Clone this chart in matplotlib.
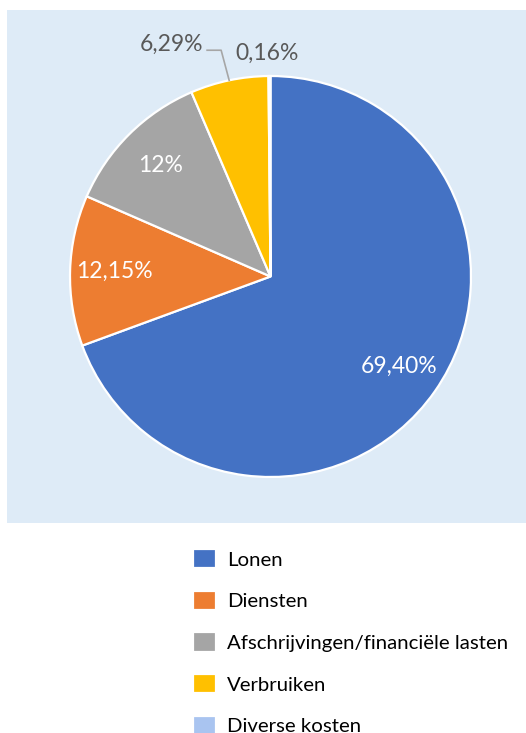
# Taartdiagram van de kostenverdeling
# met legenda onder het diagram

import numpy as np
import matplotlib.pyplot as plt
from matplotlib.patches import Rectangle

# categorieen en aandelen (%)
Categorieen = ["Lonen", "Diensten", "Afschrijvingen/financiële lasten",
               "Verbruiken", "Diverse kosten"]
Aandelen = [69.40, 12.15, 12.00, 6.29, 0.16]
Labels = ["69,40%", "12,15%", "12%", "6,29%", "0,16%"]
Kleuren = ["#4472C4", "#ED7D31", "#A5A5A5", "#FFC000", "#A9C4F0"]

fig = plt.figure(figsize=(5.26, 7.33), dpi=100)

# lichtblauwe achtergrond van het diagramvlak
fig.patches.append(Rectangle((7 / 526, 1 - 523 / 733), 1 - 7 / 526, 513 / 733,
                             transform=fig.transFigure, facecolor="#DEEBF7",
                             edgecolor="none", zorder=-10))

ax = fig.add_axes([70 / 526, 1 - 477 / 733, 401 / 526, 401 / 733])
ax.set_facecolor("none")

Taarten, _ = ax.pie(
    Aandelen,
    colors=Kleuren,
    startangle=90,
    counterclock=False,
    radius=1,
    wedgeprops=dict(edgecolor="white", linewidth=1.6),
)
ax.set_xlim(-1, 1)
ax.set_ylim(-1, 1)
ax.set_aspect("equal")
ax.axis("off")

# labels: binnen de taart wit, buiten grijs
for i, w in enumerate(Taarten):
    hoek = np.deg2rad((w.theta1 + w.theta2) / 2)
    if i < 3:
        ax.text(0.78 * np.cos(hoek), 0.78 * np.sin(hoek), Labels[i],
                color="white", fontsize=16.5, family="Lato",
                ha="center", va="center")
    elif i == 3:
        x0, y0 = np.cos(hoek), np.sin(hoek)
        ax.plot([x0, x0 - 0.04, x0 - 0.11], [y0, y0 + 0.15, y0 + 0.15],
                color="#A6A6A6", linewidth=1.2, clip_on=False)
        ax.text(x0 - 0.13, y0 + 0.18, Labels[i], color="#595959",
                fontsize=16.5, family="Lato", ha="right", va="center")
    else:
        ax.text(np.cos(hoek) - 0.01, np.sin(hoek) + 0.115, Labels[i],
                color="#595959", fontsize=16.5, family="Lato",
                ha="center", va="center")

# legenda
fig.legend(
    Taarten, Categorieen,
    loc="upper left",
    bbox_to_anchor=(193 / 526, 1 - 549 / 733),
    frameon=False,
    prop=dict(family="Lato", size=14.7),
    handlelength=1.13,
    handleheight=1.08,
    handletextpad=0.54,
    labelspacing=1.08,
    borderpad=0,
    borderaxespad=0,
)

fig.savefig("out.png", dpi=100)
